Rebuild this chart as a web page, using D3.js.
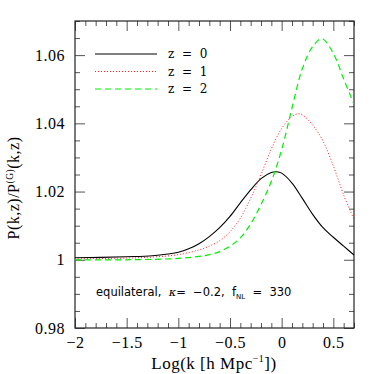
<!DOCTYPE html>
<html>
<head>
<meta charset="utf-8">
<script src="https://cdn.jsdelivr.net/npm/d3@7"></script>
<style>
  html, body { margin: 0; padding: 0; background: #fff; }
  svg text { font-family: "Liberation Serif", "DejaVu Serif", serif; }
</style>
</head>
<body>
<svg id="chart" width="374" height="374"></svg>
<script>
// log10(k) sample points
const logK0 = [-2, -1.75, -1.5, -1.25, -1.1, -1.0, -0.9, -0.8, -0.7, -0.6, -0.5, -0.4, -0.3, -0.2, -0.1, -0.05, 0, 0.1, 0.2, 0.3, 0.4, 0.5, 0.6, 0.7];
const ratioZ0 = [1.0006, 1.0007, 1.0009, 1.0012, 1.0017, 1.0022, 1.0032, 1.0047, 1.0068, 1.0094, 1.0127, 1.0167, 1.0205, 1.0238, 1.0256, 1.0258, 1.0254, 1.0225, 1.0180, 1.0133, 1.0094, 1.0066, 1.0040, 1.0014];

const logK1 = [-2, -1.5, -1.25, -1.0, -0.8, -0.7, -0.6, -0.5, -0.4, -0.3, -0.2, -0.1, 0, 0.1, 0.16, 0.2, 0.3, 0.4, 0.5, 0.6, 0.7];
const ratioZ1 = [1.0003, 1.0005, 1.0008, 1.0015, 1.0029, 1.0040, 1.0056, 1.0082, 1.0122, 1.0180, 1.0250, 1.0325, 1.0385, 1.0420, 1.0428, 1.0425, 1.0395, 1.0348, 1.0275, 1.0190, 1.0118];

const logK2 = [-2, -1.5, -1.0, -0.8, -0.7, -0.6, -0.5, -0.4, -0.3, -0.2, -0.1, 0, 0.1, 0.2, 0.3, 0.39, 0.5, 0.6, 0.7];
const ratioZ2 = [1.0000, 1.0000, 1.0004, 1.0010, 1.0015, 1.0024, 1.0040, 1.0064, 1.0105, 1.0162, 1.0230, 1.0323, 1.0445, 1.0560, 1.0625, 1.0648, 1.0605, 1.0530, 1.0456];

const seriesNames = ['z = 0', 'z = 1', 'z = 2'];
const xMajorTicks = [-2, -1.5, -1, -0.5, 0, 0.5];
const yMajorTicks = [0.98, 1, 1.02, 1.04, 1.06];

const series = [
    { name: seriesNames[0], x: logK0, y: ratioZ0, color: '#000000', dash: null, width: 1.1 },
    { name: seriesNames[1], x: logK1, y: ratioZ1, color: '#ff2020', dash: '1,2', width: 1 },
    { name: seriesNames[2], x: logK2, y: ratioZ2, color: '#00ee00', dash: '6,4', width: 1.2 }
];

const margin = { top: 21, right: 20, bottom: 46, left: 75 };
const width = 374, height = 374;
const svg = d3.select('#chart');

const x = d3.scaleLinear().domain([-2, 0.7]).range([margin.left, width - margin.right]);
const y = d3.scaleLinear().domain([0.98, 1.07]).range([height - margin.bottom, margin.top]);

const xMinor = d3.range(-20, 8).map(d => d / 10).filter(d => !xMajorTicks.some(t => Math.abs(t - d) < 1e-9));
const yMinor = d3.range(196, 215).map(d => d / 200).filter(d => !yMajorTicks.some(t => Math.abs(t - d) < 1e-9));

const fmt = d => d3.format('')(d).replace('-', '\u2212');

// clip area
svg.append('defs').append('clipPath').attr('id', 'plot-clip')
    .append('rect')
    .attr('x', margin.left).attr('y', margin.top)
    .attr('width', width - margin.left - margin.right)
    .attr('height', height - margin.top - margin.bottom);

// axes: major with labels, minor without, inward ticks on all four sides
function styleAxis(g) {
    g.select('.domain').remove();
    g.selectAll('line').attr('stroke', '#555').attr('stroke-width', 1);
}

svg.append('g')
    .attr('transform', `translate(0,${height - margin.bottom})`)
    .call(d3.axisBottom(x).tickValues(xMajorTicks).tickFormat(fmt).tickSizeInner(-10).tickSizeOuter(0).tickPadding(9))
    .call(styleAxis)
    .selectAll('text').attr('font-size', 16).attr('fill', '#000').style('font-family', '"Liberation Serif", serif').attr('letter-spacing', '0.5');

svg.append('g')
    .attr('transform', `translate(0,${height - margin.bottom})`)
    .call(d3.axisBottom(x).tickValues(xMinor).tickFormat('').tickSizeInner(-5).tickSizeOuter(0))
    .call(styleAxis);

svg.append('g')
    .attr('transform', `translate(0,${margin.top})`)
    .call(d3.axisTop(x).tickValues(xMajorTicks).tickFormat('').tickSizeInner(-10).tickSizeOuter(0))
    .call(styleAxis);

svg.append('g')
    .attr('transform', `translate(0,${margin.top})`)
    .call(d3.axisTop(x).tickValues(xMinor).tickFormat('').tickSizeInner(-5).tickSizeOuter(0))
    .call(styleAxis);

svg.append('g')
    .attr('transform', `translate(${margin.left},0)`)
    .call(d3.axisLeft(y).tickValues(yMajorTicks).tickFormat(d3.format('')).tickSizeInner(-10).tickSizeOuter(0).tickPadding(10))
    .call(styleAxis)
    .selectAll('text').attr('font-size', 16).attr('fill', '#000').style('font-family', '"Liberation Serif", serif').attr('letter-spacing', '0.5');

svg.append('g')
    .attr('transform', `translate(${margin.left},0)`)
    .call(d3.axisLeft(y).tickValues(yMinor).tickFormat('').tickSizeInner(-5).tickSizeOuter(0))
    .call(styleAxis);

svg.append('g')
    .attr('transform', `translate(${width - margin.right},0)`)
    .call(d3.axisRight(y).tickValues(yMajorTicks).tickFormat('').tickSizeInner(-10).tickSizeOuter(0))
    .call(styleAxis);

svg.append('g')
    .attr('transform', `translate(${width - margin.right},0)`)
    .call(d3.axisRight(y).tickValues(yMinor).tickFormat('').tickSizeInner(-5).tickSizeOuter(0))
    .call(styleAxis);

// frame
svg.append('rect')
    .attr('x', margin.left).attr('y', margin.top)
    .attr('width', width - margin.left - margin.right)
    .attr('height', height - margin.top - margin.bottom)
    .attr('fill', 'none').attr('stroke', '#222').attr('stroke-width', 1.2);

// curves
const line = d3.line()
    .x(d => x(d[0]))
    .y(d => y(d[1]))
    .curve(d3.curveCatmullRom.alpha(0.5));

const plot = svg.append('g').attr('clip-path', 'url(#plot-clip)');
series.forEach(s => {
    plot.append('path')
        .datum(s.x.map((v, i) => [v, s.y[i]]))
        .attr('fill', 'none')
        .attr('stroke', s.color)
        .attr('stroke-width', s.width)
        .attr('stroke-dasharray', s.dash)
        .attr('d', line);
});

// legend
const legend = svg.append('g');
series.forEach((s, i) => {
    const ly = 54 + i * 17.5;
    legend.append('line')
        .attr('x1', 95).attr('x2', 157).attr('y1', ly).attr('y2', ly)
        .attr('stroke', s.color)
        .attr('stroke-width', s.width)
        .attr('stroke-dasharray', s.dash);
    legend.append('text')
        .attr('x', 168).attr('y', ly + 4)
        .attr('font-size', 12)
        .attr('fill', '#000')
        .style('font-family', '"DejaVu Serif", serif')
        .style('white-space', 'pre')
        .attr('xml:space', 'preserve')
        .text(s.name.replace(/ /g, '  '));
});

// annotation
const note = svg.append('text')
    .attr('x', 96).attr('y', 296)
    .attr('font-size', 11.5)
    .attr('fill', '#000')
    .style('font-family', '"DejaVu Sans", sans-serif')
    .attr('xml:space', 'preserve');
note.append('tspan').text('equilateral,  ');
note.append('tspan').style('font-family', '"DejaVu Serif", serif').style('font-style', 'italic').text('\u03ba');
note.append('tspan').text('=  \u22120.2,  f');
note.append('tspan').attr('font-size', 7).attr('dy', 3).text('NL');
note.append('tspan').attr('dy', -3).text('  =  330');

// axis titles
const xTitle = svg.append('text')
    .attr('x', 214).attr('y', 369)
    .attr('text-anchor', 'middle')
    .attr('font-size', 17)
    .attr('fill', '#000')
    .attr('letter-spacing', '0.5');
xTitle.append('tspan').text('Log(k [h Mpc');
xTitle.append('tspan').attr('font-size', 10).attr('dy', -7).text('\u22121');
xTitle.append('tspan').attr('dy', 7).text('])');

const yTitle = svg.append('text')
    .attr('transform', 'translate(19,188) rotate(-90)')
    .attr('text-anchor', 'middle')
    .attr('font-size', 16)
    .attr('fill', '#000')
    .attr('letter-spacing', '0.5');
yTitle.append('tspan').text('P(k,z)/P');
yTitle.append('tspan').attr('font-size', 9.5).attr('dy', -6).text('(G)');
yTitle.append('tspan').attr('dy', 6).text('(k,z)');
</script>
</body>
</html>
